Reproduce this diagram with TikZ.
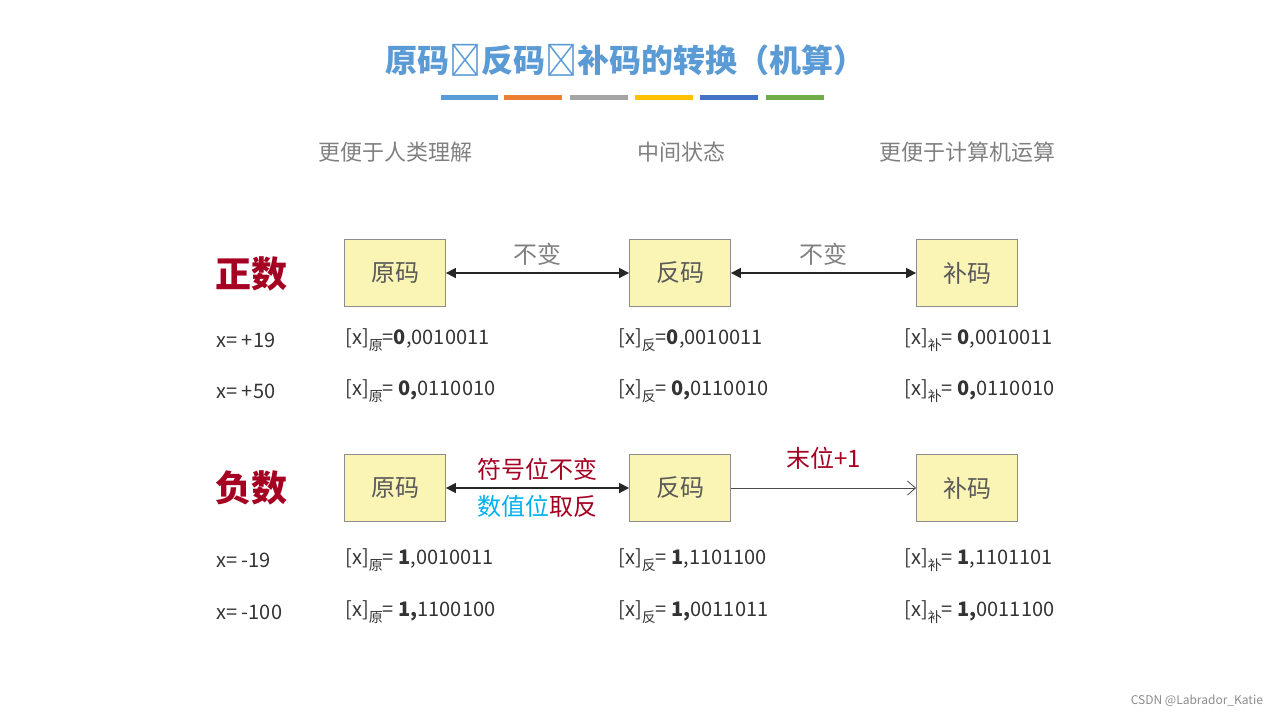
\documentclass[tikz,border=0pt]{standalone}
\usepackage{fontspec}
\setmainfont{Noto Sans CJK SC}
\usetikzlibrary{arrows.meta,positioning}
\definecolor{titleblue}{HTML}{5B9BD5}
\definecolor{boxfill}{HTML}{FAF5B4}
\definecolor{darkred}{HTML}{A50021}
\definecolor{lightblue}{HTML}{00B0F0}
\definecolor{headgray}{HTML}{808080}
\tikzset{every picture/.style={/utils/exec={\fontsize{10pt}{12pt}\selectfont}}}

\begin{document}
\begin{tikzpicture}[x=0.5pt,y=-0.5pt]
  \tikzstyle{codebox} = [draw=black!45, fill=boxfill, minimum width=50.5pt, minimum height=33.5pt, font=\fontsize{12pt}{14pt}\selectfont, text=black!65]
  \tikzstyle{head} = [text=headgray, font=\fontsize{11pt}{13pt}\selectfont]
  \tikzstyle{sign} = [text=darkred, font=\fontsize{18pt}{20pt}\selectfont\bfseries]
  \tikzstyle{row} = [anchor=west, inner sep=0pt, text=black!80]
  \tikzstyle{both} = [{Triangle[length=5pt,width=5pt]}-{Triangle[length=5pt,width=5pt]}, thick, black!85]

  \useasboundingbox (0,0) rectangle (1280,714);

  % title and colour bars
  \node (title) [text=titleblue, font=\fontsize{16pt}{18pt}\selectfont\bfseries] at (625,60) {原码➔反码➔补码的转换（机算）};
  \foreach \xa/\xb/\cc in {441/498/5B9BD5, 504/562/ED7D31, 570/628/A5A5A5, 635/693/FFC000, 700/758/4472C4, 766/824/70AD47} {
    \definecolor{barcol}{HTML}{\cc}
    \fill [barcol] (\xa,95) rectangle (\xb,100);
  }

  \node (h1) [head] at (395,152) {更便于人类理解};
  \node (h2) [head] at (681,152) {中间状态};
  \node (h3) [head] at (967,152) {更便于计算机运算};

  % positive
  \node (pos) [sign] at (251,274) {正数};
  \node (p1) [codebox] at (395,273) {原码};
  \node (p2) [codebox] at (680,273) {反码};
  \node (p3) [codebox] at (967,273) {补码};
  \draw [both] (p1) -- node [above, text=headgray, font=\fontsize{12pt}{14pt}\selectfont] {不变} (p2);
  \draw [both] (p2) -- node [above, text=headgray, font=\fontsize{12pt}{14pt}\selectfont] {不变} (p3);

  % negative
  \node (neg) [sign] at (251,488) {负数};
  \node (n1) [codebox] at (395,488) {原码};
  \node (n2) [codebox] at (680,488) {反码};
  \node (n3) [codebox] at (967,488) {补码};
  \draw [both] (n1) -- node [above, text=darkred, font=\fontsize{12pt}{14pt}\selectfont] {符号位不变}
    node [below, font=\fontsize{12pt}{14pt}\selectfont] {\textcolor{lightblue}{数值位}\textcolor{darkred}{取反}} (n2);
  \draw [-{Straight Barb[length=4pt,width=7pt]}, black!70] (n2) -- node [above=6pt, text=darkred, font=\fontsize{12pt}{14pt}\selectfont] {末位+1} (n3);

  % values
  \foreach \yv/\xv/\va/\vb/\vc [count=\i] in {
      340/+19/{=\textbf{0},0010011}/{=\textbf{0},0010011}/{= \textbf{0},0010011},
      391/+50/{= \textbf{0,}0110010}/{= \textbf{0,}0110010}/{= \textbf{0,}0110010},
      560/-19/{= \textbf{1},0010011}/{= \textbf{1},1101100}/{= \textbf{1},1101101},
      612/-100/{= \textbf{1,}1100100}/{= \textbf{1,}0011011}/{= \textbf{1,}0011100}} {
    \node (x\i) [row] at (216,\yv) {x= \xv};
    \node (a\i) [row] at (345,\yv) {[x]\raisebox{-3pt}{\fontsize{7pt}{8pt}\selectfont 原}\va};
    \node (b\i) [row] at (618,\yv) {[x]\raisebox{-3pt}{\fontsize{7pt}{8pt}\selectfont 反}\vb};
    \node (c\i) [row] at (904,\yv) {[x]\raisebox{-3pt}{\fontsize{7pt}{8pt}\selectfont 补}\vc};
  }

  \node (mark) [anchor=east, text=black!45, font=\fontsize{6pt}{7pt}\selectfont] at (1270,701) {CSDN @Labrador\_Katie};
\end{tikzpicture}
\end{document}
